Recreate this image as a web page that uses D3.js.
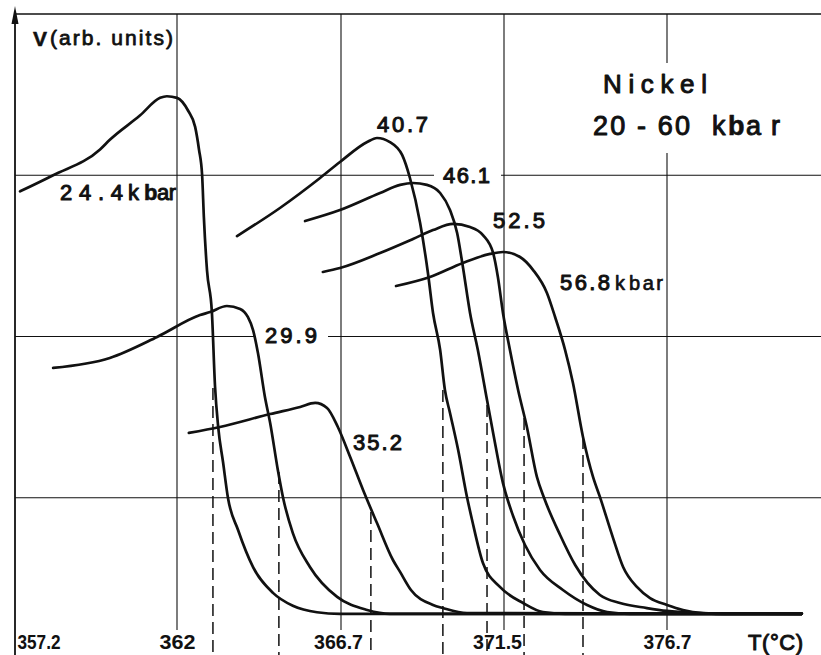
<!DOCTYPE html>
<html>
<head>
<meta charset="utf-8">
<script src="https://cdn.jsdelivr.net/npm/d3@7"></script>
<style>
  html, body { margin: 0; padding: 0; background: #fff; }
  svg { display: block; }
  text { font-family: "Liberation Sans", Arial, sans-serif; fill: #111; }
</style>
</head>
<body>
<svg id="chart" width="821" height="655"></svg>
<script>
// Temperature ticks (°C) and V grid levels (arb. units)
const tickT = [357.2, 362, 366.7, 371.5, 376.7];
const gridV = [1, 2, 3];
const topV = 4;

// Pressure of each run (kbar)
const pressures = ["24.4", "29.9", "35.2", "40.7", "46.1", "52.5", "56.8"];

// V(T) traces, [T °C, V arb. units]
const run244 = [[357.35,2.90],[358.33,3.00],[359.72,3.16],[360.01,3.22],[360.90,3.37],[361.50,3.48],[361.70,3.49],[362.00,3.48],[362.32,3.40],[362.52,3.30],[362.63,3.16],[362.72,3.00],[362.77,2.74],[362.86,2.41],[363.00,2.15],[363.09,1.69],[363.18,1.44],[363.32,1.22],[363.46,1.00],[363.75,0.80],[364.18,0.57],[364.75,0.41],[365.32,0.33],[366.01,0.29],[366.67,0.28],[381.0,0.28]];
const run299 = [[358.33,1.805],[360.01,1.867],[361.41,1.997],[362.66,2.133],[362.95,2.152],[363.43,2.189],[363.81,2.171],[364.03,2.121],[364.18,2.040],[364.32,1.898],[364.52,1.625],[364.67,1.464],[364.89,1.172],[365.04,1.00],[365.32,0.781],[365.81,0.571],[366.59,0.385],[367.47,0.304],[368.14,0.28],[381.0,0.28]];
const run352 = [[362.34,1.402],[363.23,1.439],[364.67,1.519],[365.53,1.563],[365.96,1.588],[366.30,1.557],[366.61,1.439],[366.97,1.253],[367.35,1.048],[367.76,0.843],[368.23,0.614],[368.44,0.540],[368.76,0.428],[369.41,0.335],[369.70,0.316],[370.41,0.285],[381.0,0.28]];
const run407 = [[363.72,2.623],[364.95,2.797],[366.10,2.983],[366.67,3.082],[367.47,3.206],[367.76,3.231],[368.14,3.206],[368.50,3.126],[368.73,2.983],[369.03,2.704],[369.26,2.394],[369.41,2.146],[369.62,1.916],[369.76,1.668],[369.91,1.526],[370.15,1.296],[370.41,1.005],[370.56,0.862],[370.88,0.595],[371.38,0.447],[372.11,0.347],[372.74,0.291],[373.45,0.28],[381.0,0.28]];
const run461 = [[365.67,2.716],[366.67,2.784],[367.85,2.890],[368.44,2.940],[368.82,2.952],[369.23,2.940],[369.62,2.890],[369.91,2.784],[370.12,2.642],[370.29,2.431],[370.50,2.146],[370.73,1.916],[371.00,1.606],[371.18,1.402],[371.47,1.091],[371.79,0.887],[372.17,0.707],[372.65,0.552],[373.38,0.428],[374.15,0.335],[374.79,0.291],[375.52,0.28],[381.0,0.28]];
const run525 = [[366.18,2.400],[366.67,2.425],[367.85,2.518],[368.82,2.605],[369.41,2.660],[370.00,2.698],[370.50,2.679],[370.88,2.629],[371.18,2.518],[371.32,2.369],[371.47,2.146],[371.69,1.916],[371.95,1.668],[372.23,1.439],[372.55,1.129],[372.78,0.998],[373.29,0.769],[373.77,0.583],[374.56,0.397],[375.20,0.347],[376.06,0.316],[376.70,0.298],[377.66,0.285],[378.39,0.28],[381.0,0.28]];
const run568 = [[368.32,2.313],[369.32,2.369],[370.29,2.456],[371.09,2.512],[371.47,2.524],[372.01,2.493],[372.43,2.412],[372.87,2.270],[373.13,2.121],[373.45,1.916],[373.70,1.712],[374.02,1.377],[374.34,1.129],[374.56,1.005],[374.98,0.750],[375.30,0.571],[375.74,0.447],[376.16,0.378],[376.70,0.335],[377.21,0.304],[377.85,0.285],[378.55,0.28],[381.0,0.28]];
const runs = [run244, run299, run352, run407, run461, run525, run568];

// Transition temperatures marked by dashed drops, and the V where each mark starts
const curieT = [363.03, 364.92, 367.58, 369.70, 371.00, 372.14, 374.02];
const curieV = [1.681, 1.160, 0.912, 1.668, 1.575, 1.495, 1.377];

// ---- layout ----
const W = 821, H = 655;
const plotLeft = 15, plotTop = 14, gridBottom = 630;

const svg = d3.select("#chart");
svg.append("rect").attr("width", W).attr("height", H).attr("fill", "#fff");

// Evenly spaced temperature gridlines (piecewise scale through the tick values)
const x = d3.scaleLinear()
  .domain(tickT)
  .range([15, 177, 341, 504, 667]);
const y = d3.scaleLinear().domain([0, topV]).range([659, plotTop]);

const ink = "#111";
const gGrid = svg.append("g");
const gText = svg.append("g");

// ---- annotation labels (drawn first so gridlines can break around them) ----
function label(txt, px, py, size, opts = {}) {
  const t = gText.append("text")
    .attr("x", px).attr("y", py)
    .attr("font-size", size)
    .attr("font-weight", opts.bold ? "bold" : "normal")
    .attr("stroke", ink).attr("stroke-width", opts.sw ?? 1.0)
    .attr("stroke-linejoin", "round")
    .text(txt);
  if (opts.len) t.attr("textLength", opts.len).attr("lengthAdjust", opts.adjust || "spacing");
  return t;
}

label("V", 33, 46, 21, { bold: true, sw: 0.6 });
label("(arb. units)", 50, 45, 21, { len: 123, sw: 0.8 });

label("24.4", 60, 200, 22, { len: 63 });
label("k", 128, 200, 22);
label("b", 144, 200, 22, { bold: true, sw: 0.6 });
label("ar", 157, 200, 22, { len: 19 });

const lab299 = label("29.9", 265, 343, 22, { len: 52 });
label("35.2", 353, 450, 22, { len: 49 });
label("40.7", 377, 132, 22, { len: 51 });
const lab461 = label("46.1", 443, 183, 22, { len: 47 });
label("52.5", 493, 228, 22, { len: 52 });
label("56.8", 560, 290, 22, { len: 50 });
label("k", 615, 290, 20, { sw: 0.7 });
label("bar", 629, 290, 20, { len: 34, sw: 0.7 });

const labNickel = label("Nickel", 603, 93, 26, { len: 104 });
label("20 - 60", 593, 135, 27, { len: 97 });
label("k", 712, 135, 27);
label("b", 728, 135, 27, { bold: true, sw: 0.6 });
label("ar", 746, 135, 27, { len: 34 });

label("T(°C)", 748, 650, 22, { len: 55, sw: 1.0 });

// ---- grid ----
function bbox(sel) { return sel.node().getBBox(); }

// horizontal gridlines, broken where a label sits on them
const hGaps = new Map([[3, bbox(lab461)], [2, bbox(lab299)]]);
gridV.forEach(v => {
  const gap = hGaps.get(v);
  const segs = gap ? [[plotLeft, gap.x - 9], [gap.x + gap.width + 11, W]] : [[plotLeft, W]];
  segs.forEach(([a, b]) => {
    gGrid.append("line")
      .attr("x1", a).attr("x2", b)
      .attr("y1", y(v)).attr("y2", y(v))
      .attr("stroke", ink).attr("stroke-width", 1.1);
  });
});
// top frame line
gGrid.append("line").attr("x1", plotLeft).attr("x2", W).attr("y1", y(topV)).attr("y2", y(topV))
  .attr("stroke", ink).attr("stroke-width", 1.6);

// vertical gridlines; the last one opens around the title block
const nb = bbox(labNickel);
tickT.slice(1).forEach((t, i, arr) => {
  const segs = (i === arr.length - 1)
    ? [[y(topV), nb.y - 6], [nb.y + 84, gridBottom]]
    : [[y(topV), gridBottom]];
  segs.forEach(([a, b]) => {
    gGrid.append("line")
      .attr("x1", x(t)).attr("x2", x(t))
      .attr("y1", a).attr("y2", b)
      .attr("stroke", ink).attr("stroke-width", 1.1);
  });
});

// V axis with arrow
gGrid.append("line").attr("x1", x(tickT[0])).attr("x2", x(tickT[0]))
  .attr("y1", 12).attr("y2", H)
  .attr("stroke", ink).attr("stroke-width", 1.8);
gGrid.append("path")
  .attr("d", `M${x(tickT[0])},6 L${x(tickT[0]) - 3.5},24 L${x(tickT[0]) + 3.5},24 Z`)
  .attr("fill", ink);

// ---- temperature axis labels ----
const gx = svg.append("g")
  .attr("transform", `translate(0,649)`)
  .call(d3.axisBottom(x).tickValues(tickT).tickSize(0).tickPadding(0).tickFormat(d => String(d)));
gx.select(".domain").remove();
const tickLen = { "357.2": 43, "362": 36, "366.7": 49, "371.5": 49, "376.7": 48 };
gx.selectAll(".tick text")
  .attr("y", 0).attr("dy", 0)
  .attr("font-size", 21)
  .attr("font-weight", "bold")
  .attr("font-family", "'Liberation Sans', Arial, sans-serif")
  .attr("fill", ink)
  .attr("textLength", d => tickLen[String(d)])
  .attr("lengthAdjust", "spacingAndGlyphs")
  .attr("text-anchor", (d, i) => i === 0 ? "start" : "middle")
  .attr("dx", (d, i) => i === 0 ? 2 : (d === 371.5 ? -7 : (d === 366.7 ? -3 : 0)));

// ---- dashed transition markers ----
svg.append("g").selectAll("line")
  .data(curieT)
  .join("line")
  .attr("x1", d => x(d)).attr("x2", d => x(d))
  .attr("y1", (d, i) => y(curieV[i]))
  .attr("y2", y(0))
  .attr("stroke", ink)
  .attr("stroke-width", 1.5)
  .attr("stroke-dasharray", "12,6");

// ---- V(T) curves ----
const line = d3.line()
  .x(d => x(d[0]))
  .y(d => y(d[1]))
  .curve(d3.curveMonotoneX);

svg.append("g").selectAll("path")
  .data(runs)
  .join("path")
  .attr("d", line)
  .attr("fill", "none")
  .attr("stroke", ink)
  .attr("stroke-width", 2.7)
  .attr("stroke-linejoin", "round")
  .attr("stroke-linecap", "round");

// labels above curves
gText.raise();
</script>
</body>
</html>
